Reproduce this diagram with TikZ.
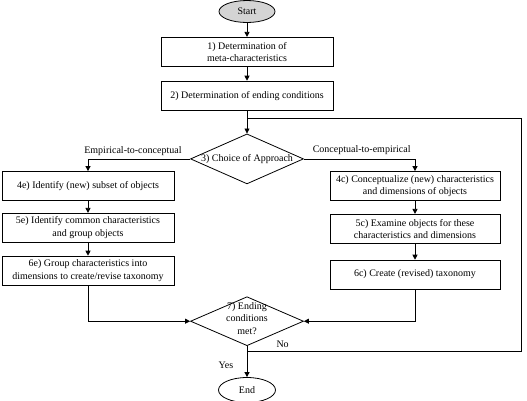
\documentclass[tikz,border=0pt]{standalone}
\usepackage{fontspec}
\setmainfont{Liberation Serif}
\usepackage{tikz}
\usetikzlibrary{arrows.meta,positioning,shapes.geometric}
\definecolor{startgray}{RGB}{212,212,212}

\begin{document}
\begin{tikzpicture}[
    font=\fontsize{10}{12.5}\selectfont,
    terminal/.style={ellipse, draw, thick, inner sep=0pt, minimum width=56pt, minimum height=22pt},
    box/.style={rectangle, draw, thick, align=center, minimum width=172pt, minimum height=29pt, inner sep=2pt},
    decision/.style={diamond, draw, thick, inner sep=0pt, minimum width=113pt, minimum height=50pt},
    arrow/.style={-{Triangle[length=5pt,width=5pt]}, thick},
    line/.style={thick}
  ]
    \useasboundingbox (0,0) rectangle (527pt,-400pt);

    \node[terminal, fill=startgray] (start) at (247pt,-11.5pt) {Start};
    \node[box, below=14pt of start] (meta) {1) Determination of\\meta-characteristics};
    \node[box, below=14pt of meta] (endcond) {2) Determination of ending conditions};
    \node[decision, below=23pt of endcond, label=center:{3) Choice of Approach}] (approach) {};

    \node[box] (ecsubset) at (88pt,-186pt) {4e) Identify (new) subset of objects};
    \node[box, below=12pt of ecsubset] (ecgroup) {5e) Identify common characteristics\\and group objects};
    \node[box, below=13pt of ecgroup] (ecdims) {6e) Group characteristics into\\dimensions to create/revise taxonomy};

    \node[box, minimum width=170pt] (cedims) at (415pt,-186pt) {4c) Conceptualize (new) characteristics\\and dimensions of objects};
    \node[box, minimum width=170pt, below=13pt of cedims] (ceexam) {5c) Examine objects for these\\characteristics and dimensions};
    \node[box, minimum width=170pt, below=16pt of ceexam] (cetax) {6c) Create (revised) taxonomy};

    \node[decision, minimum height=49pt, below=112pt of approach, label={[align=center, yshift=3pt]center:{7) Ending\\conditions\\met?}}] (ending) {};
    \node[terminal, minimum width=57pt, minimum height=25pt, below=31pt of ending] (stop) {End};

    \coordinate (nobranch) at (247pt,-351pt);
    \coordinate (noturn) at (521pt,-351pt);
    \coordinate (loopjoin) at (247pt,-118pt);

    \draw[arrow] (start) -- (meta);
    \draw[arrow] (meta) -- (endcond);
    \draw[arrow] (endcond) -- (approach);
    \draw[arrow] (approach.west) -| node[above, pos=0.28] {Empirical-to-conceptual} (ecsubset.north);
    \draw[arrow] (approach.east) -| node[above, pos=0.26, yshift=1pt] {Conceptual-to-empirical} (cedims.north);
    \draw[arrow] (ecsubset) -- (ecgroup);
    \draw[arrow] (ecgroup) -- (ecdims);
    \draw[arrow] (cedims) -- (ceexam);
    \draw[arrow] (ceexam) -- (cetax);
    \draw[arrow] (ecdims.south) |- (ending.west);
    \draw[arrow] (cetax.south) |- (ending.east);
    \draw[arrow] (ending) -- node[left, pos=0.62, xshift=-10pt] {Yes} (stop);
    \draw[line] (nobranch) -- node[above, pos=0.13] {No} (noturn) |- (loopjoin);
  \end{tikzpicture}
\end{document}
